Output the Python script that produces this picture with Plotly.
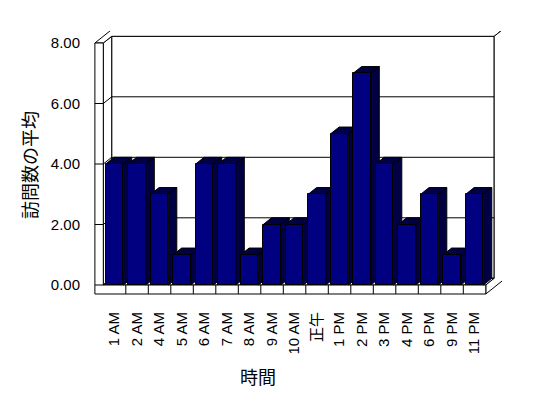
import plotly.graph_objects as go

# ---- data ----
categories = ["1 AM", "2 AM", "4 AM", "5 AM", "6 AM", "7 AM", "8 AM", "9 AM", "10 AM",
              "正午", "1 PM", "2 PM", "3 PM", "4 PM", "6 PM", "9 PM", "11 PM"]
values = [4, 4, 3, 1, 4, 4, 1, 2, 2, 3, 5, 7, 4, 2, 3, 1, 3]
y_ticks = [0, 2, 4, 6, 8]
y_tick_labels = ["0.00", "2.00", "4.00", "6.00", "8.00"]
y_title = "訪問数の平均"
x_title = "時間"

# ---- geometry (page has an 8px body margin) ----
OFF = 8
W, H = 548 - OFF, 398 - OFF
ML, MT = 94 - OFF, 31 - OFF
MR, MB = 46, 102
plot_w = W - ML - MR
plot_h = H - MT - MB
cat_px = 22.5
val_px = 30.25
x0_px = 114.55 - 94
y0_px = 285 - 31
x_range = [-x0_px / cat_px, (plot_w - x0_px) / cat_px]
y_range = [-(plot_h - y0_px) / val_px, y0_px / val_px]

n = len(categories)
vmax = y_ticks[-1]
dx = 8.4 / cat_px      # depth offset in category units
dy = 6.7 / val_px      # depth offset in value units
ft = 9 / val_px        # floor thickness
bw = 0.787             # bar width
hw = bw / 2
x_lo, x_hi = -0.5, n - 0.5

FRONT = "#000080"
SHADE = "#000042"


def poly(pts):
    return "M " + " L ".join(f"{x},{y}" for x, y in pts) + " Z"


frame_style = dict(type="path", xref="x", yref="y", layer="below",
                   line=dict(color="black", width=1), fillcolor="white")
shapes = []
shapes.append(dict(frame_style, path=poly([(x_lo + dx, dy), (x_hi + dx, dy),
                                           (x_hi + dx, vmax + dy), (x_lo + dx, vmax + dy)])))
shapes.append(dict(frame_style, path=poly([(x_lo, 0), (x_lo, vmax), (x_lo + dx, vmax + dy), (x_lo + dx, dy)])))
shapes.append(dict(frame_style, path=poly([(x_lo, 0), (x_hi, 0), (x_hi + dx, dy), (x_lo + dx, dy)])))
shapes.append(dict(frame_style, path=poly([(x_lo - dx, vmax), (x_lo, vmax), (x_lo + dx, vmax + dy),
                                           (x_hi + dx, vmax + dy), (x_hi + 2 * dx, vmax + 2 * dy),
                                           (x_lo + dx, vmax + 2 * dy)])))
shapes.append(dict(frame_style, path=poly([(x_hi, -ft), (x_hi + 2 * dx, -ft + 2 * dy),
                                           (x_hi + 2 * dx, vmax + 2 * dy), (x_hi + dx, vmax + dy),
                                           (x_hi + dx, dy), (x_hi, 0)])))
shapes.append(dict(frame_style, path=poly([(x_lo - dx, vmax), (x_lo, vmax), (x_lo, 0), (x_hi, 0),
                                           (x_hi, -ft), (x_lo - dx, -ft)])))
gp = []
for v in y_ticks[:-1]:
    gp.append(f"M {x_lo - dx},{v} L {x_lo},{v} L {x_lo + dx},{v + dy} L {x_hi + dx},{v + dy}")
for k in range(1, n):
    gp.append(f"M {k - 0.5},{-ft} L {k - 0.5},0")
shapes.append(dict(type="path", xref="x", yref="y", layer="below",
                   line=dict(color="black", width=1), path=" ".join(gp)))

fig = go.Figure()

# side and top faces of the bars (drawn behind the front faces)
for i, v in enumerate(values):
    l, r = i - hw, i + hw
    xs = [r, r, r + dx, r + dx, r, None, l, r, r + dx, l + dx, l]
    ys = [0, v, v + dy, dy, 0, None, v, v, v + dy, v + dy, v]
    fig.add_trace(go.Scatter(x=xs, y=ys, mode="lines", fill="toself", fillcolor=SHADE,
                             line=dict(color="black", width=1), hoverinfo="skip",
                             showlegend=False, xaxis="x", yaxis="y"))

# front faces of the bars
fig.add_trace(go.Bar(x=list(range(n)), y=values, width=bw,
                     marker=dict(color=FRONT, line=dict(color="black", width=1)),
                     showlegend=False, xaxis="x2", yaxis="y2"))

tick_font = dict(family="Liberation Sans, Arial, Noto Sans CJK JP", size=15, color="black")
fig.update_layout(
    width=W, height=H,
    margin=dict(l=ML, r=MR, t=MT, b=MB, pad=0, autoexpand=False),
    paper_bgcolor="white", plot_bgcolor="white",
    shapes=shapes,
    xaxis=dict(range=x_range, tickmode="array", tickvals=list(range(n)), ticktext=categories,
               tickangle=-90, ticks="outside", ticklen=9, tickcolor="rgba(0,0,0,0)", automargin=False,
               showgrid=False, zeroline=False, showline=False, tickfont=tick_font, fixedrange=True),
    yaxis=dict(range=y_range, tickmode="array", tickvals=y_ticks, ticktext=y_tick_labels,
               ticks="outside", ticklen=10, tickcolor="rgba(0,0,0,0)", automargin=False,
               showgrid=False, zeroline=False, showline=False, tickfont=tick_font, fixedrange=True),
    xaxis2=dict(range=x_range, overlaying="x", visible=False, fixedrange=True),
    yaxis2=dict(range=y_range, overlaying="y", visible=False, fixedrange=True),
    annotations=[
        dict(text=y_title, xref="paper", yref="paper", x=(29 - 94) / plot_w, y=(296 - 165) / plot_h,
             textangle=-90, showarrow=False, xanchor="center", yanchor="middle",
             font=dict(family="Noto Sans CJK JP", size=18, color="black")),
        dict(text=x_title, xref="paper", yref="paper", x=(258 - 94) / plot_w, y=(296 - 376) / plot_h,
             showarrow=False, xanchor="center", yanchor="middle",
             font=dict(family="Noto Sans CJK JP", size=18, color="black")),
    ],
    bargap=0,
)

fig.write_html("out.html")
